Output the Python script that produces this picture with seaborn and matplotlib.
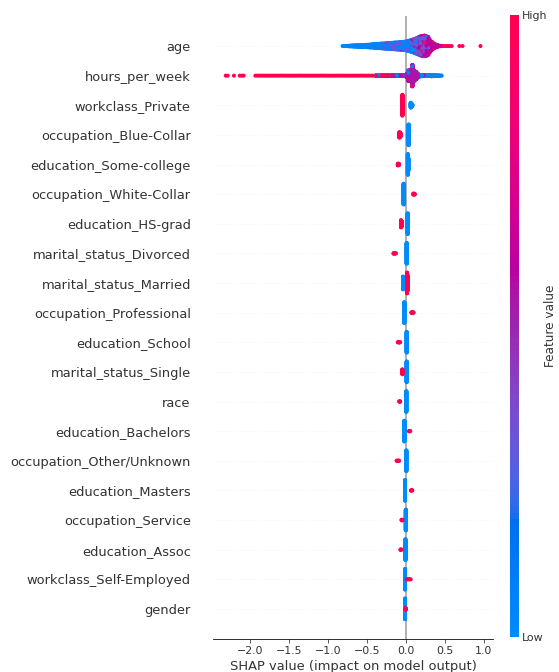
import numpy as np
import pandas as pd
import matplotlib
matplotlib.use("Agg")
import matplotlib.pyplot as plt
from matplotlib.colors import ListedColormap, Normalize
from matplotlib.cm import ScalarMappable
import seaborn as sns

# ---------------------------------------------------------------- data
features = [
    "age", "hours_per_week", "workclass_Private", "occupation_Blue-Collar",
    "education_Some-college", "occupation_White-Collar", "education_HS-grad",
    "marital_status_Divorced", "marital_status_Married", "occupation_Professional",
    "education_School", "marital_status_Single", "race", "education_Bachelors",
    "occupation_Other/Unknown", "education_Masters", "occupation_Service",
    "education_Assoc", "workclass_Self-Employed", "gender",
]

# age: SHAP value bins, sample counts per feature-value level in each bin
age_levels = [0.05, 0.3, 0.6, 0.95]
age_shap = [-0.810, -0.785, -0.760, -0.735, -0.710, -0.685, -0.660, -0.635, -0.610, -0.585,
            -0.560, -0.535, -0.510, -0.485, -0.460, -0.435, -0.410, -0.385, -0.360, -0.335,
            -0.310, -0.285, -0.260, -0.235, -0.210, -0.185, -0.160, -0.135, -0.110, -0.085,
            -0.060, -0.035, -0.010, 0.015, 0.040, 0.065, 0.090, 0.115, 0.140, 0.165,
            0.190, 0.215, 0.240, 0.265, 0.290, 0.315, 0.340, 0.365, 0.390, 0.415,
            0.440, 0.465, 0.490, 0.515, 0.540, 0.565, 0.590, 0.690, 0.730, 0.960]
age_counts = [
    [1, 0, 0, 0], [1, 0, 0, 0], [2, 0, 0, 0], [3, 0, 0, 0], [5, 0, 0, 0],
    [6, 0, 0, 0], [7, 0, 0, 0], [8, 0, 0, 0], [9, 0, 0, 0], [9, 0, 0, 0],
    [10, 0, 0, 0], [11, 0, 0, 0], [12, 0, 0, 0], [13, 0, 0, 0], [14, 1, 0, 0],
    [15, 1, 0, 0], [16, 2, 0, 0], [17, 2, 0, 0], [19, 2, 0, 0], [19, 2, 0, 1],
    [20, 4, 0, 0], [20, 5, 0, 0], [22, 4, 1, 0], [22, 5, 0, 1], [22, 6, 1, 0],
    [23, 7, 1, 0], [23, 8, 0, 1], [24, 9, 1, 0], [24, 10, 1, 0], [23, 11, 1, 1],
    [23, 13, 2, 0], [22, 15, 2, 1], [21, 17, 3, 1], [20, 20, 4, 2], [18, 24, 6, 2],
    [16, 28, 9, 3], [14, 31, 13, 4], [12, 33, 20, 4], [10, 33, 30, 3], [8, 32, 40, 4],
    [6, 30, 51, 5], [5, 27, 59, 6], [4, 24, 65, 7], [3, 20, 65, 7], [2, 16, 61, 7],
    [0, 8, 38, 11], [0, 4, 22, 12], [0, 2, 11, 11], [0, 1, 6, 7], [0, 0, 3, 5],
    [0, 0, 1, 2], [0, 0, 0, 2], [0, 0, 0, 1], [0, 0, 0, 1], [0, 0, 0, 1],
    [0, 0, 0, 1], [0, 0, 0, 1], [0, 0, 0, 1], [0, 0, 0, 1], [0, 0, 0, 1],
]

# hours_per_week: SHAP value bins, counts for low / middle / high hours
hours_levels = [0.05, 0.55, 1.0]
hours_shap = [
    -2.310, -2.285, -2.205, -2.130, -2.105, -2.080,
    -1.930, -1.905, -1.880, -1.855, -1.830, -1.805, -1.780, -1.755, -1.730, -1.705,
    -1.680, -1.655, -1.630, -1.605, -1.580, -1.555, -1.530, -1.505, -1.480, -1.455,
    -1.430, -1.405, -1.380, -1.355, -1.330, -1.305, -1.280, -1.255, -1.230, -1.205,
    -1.180, -1.155, -1.130, -1.105, -1.080, -1.055, -1.030, -1.005, -0.980, -0.955,
    -0.930, -0.905, -0.880, -0.855, -0.830, -0.805, -0.780, -0.755, -0.730, -0.705,
    -0.680, -0.655, -0.630, -0.605, -0.580, -0.555, -0.530, -0.505, -0.480, -0.455,
    -0.430, -0.405,
    -0.380, -0.350, -0.320, -0.290, -0.260, -0.230, -0.200, -0.170, -0.140, -0.110,
    -0.080, -0.050, -0.020,
    0.010, 0.035, 0.060, 0.085, 0.110, 0.135, 0.160,
    0.185, 0.210, 0.235, 0.260, 0.285, 0.310, 0.335, 0.360, 0.385, 0.410, 0.435, 0.460,
]
hours_counts = (
    [[0, 0, 1]] * 68
    + [[3, 1, 5], [3, 1, 5], [3, 1, 5], [4, 1, 5], [4, 2, 5], [4, 2, 5], [5, 2, 4],
       [5, 3, 4], [5, 3, 4], [6, 3, 4], [6, 4, 4], [6, 5, 4], [6, 6, 3]]
    + [[5, 45, 5], [10, 170, 10], [10, 180, 10], [10, 175, 10], [10, 170, 10],
       [10, 120, 5], [20, 30, 2]]
    + [[22, 4, 0], [18, 3, 0], [16, 2, 0], [14, 2, 0], [13, 1, 0], [12, 1, 0],
       [10, 0, 0], [9, 0, 0], [8, 0, 0], [6, 0, 0], [4, 0, 0], [2, 0, 0]]
)

# one-hot features (same order as features[2:]):
# SHAP values / counts for indicator = 0 and indicator = 1
zero_shap = [[0.065, 0.075, 0.085], [0.038], [0.028, 0.034], [-0.026], [0.026],
             [0.013], [-0.034], [-0.017], [0.013], [0.013], [0.008], [-0.017],
             [0.008], [-0.008], [0.002], [-0.003], [-0.008], [-0.008]]
zero_count = [[24, 16, 7], [100], [100, 60], [100], [100],
              [100], [62], [100], [100], [100], [100], [100],
              [100], [100], [100], [100], [100], [100]]
one_shap = [[-0.042], [-0.08, -0.068], [-0.1, -0.088], [0.1, 0.114], [-0.06, -0.05],
            [-0.155, -0.14, -0.127], [0.018, 0.026], [0.076, 0.09, 0.1],
            [-0.1, -0.085, -0.072], [-0.043], [-0.083, -0.072], [0.045, 0.058],
            [-0.115, -0.1, -0.086], [0.07, 0.084], [-0.051, -0.043], [-0.065, -0.055],
            [0.012, 0.028, 0.045, 0.065], [0.0]]
one_count = [[100], [27, 20], [9, 8], [6, 5], [35, 25],
             [3, 3, 2], [100, 70], [4, 4, 2],
             [2, 3, 2], [24], [2, 3], [3, 2],
             [2, 3, 2], [3, 2], [4, 3], [3, 2],
             [1, 2, 2, 1], [9]]

x_ticks = [-2.0, -1.5, -1.0, -0.5, 0.0, 0.5, 1.0]


# ---------------------------------------------------------------- colour map
_M = np.array([[0.4124, 0.3576, 0.1805], [0.2126, 0.7152, 0.0722], [0.0193, 0.1192, 0.9505]])
_WHITE = np.array([0.95047, 1.0, 1.08883])


def lch_to_srgb(L, C, H):
    a, b = C * np.cos(H), C * np.sin(H)
    fy = (L + 16) / 116
    f = np.array([fy + a / 500, fy, fy - b / 200])
    d = 6 / 29
    xyz = np.where(f > d, f ** 3, 3 * d ** 2 * (f - 4 / 29)) * _WHITE
    lin = np.clip(np.linalg.solve(_M, xyz), 0, 1)
    return np.clip(np.where(lin <= 0.0031308, 12.92 * lin, 1.055 * lin ** (1 / 2.4) - 0.055), 0, 1)


def red_blue_cmap(n=100):
    # perceptual blue -> purple -> red ramp in LCh, darker in the middle
    blue_lch = (54.0, 70.0, 4.6588)
    red_lch = (54.0, 90.0, 0.35470565 + 2 * np.pi)
    l_mid = 40.0
    l_vals = list(np.linspace(blue_lch[0], l_mid, n // 2)) + list(np.linspace(l_mid, red_lch[0], n // 2))
    c_vals = np.linspace(blue_lch[1], red_lch[1], n)
    h_vals = np.linspace(blue_lch[2], red_lch[2], n)
    cols = [lch_to_srgb(l, c, h) for l, c, h in zip(l_vals, c_vals, h_vals)]
    return ListedColormap(cols, name="red_blue")


cmap = red_blue_cmap()


# ---------------------------------------------------------------- points
def stack_bin(x, counts, levels, out):
    """Append the samples of one SHAP bin, colour levels spread evenly through the stack."""
    items = []
    for lv, n in zip(levels, counts):
        for i in range(n):
            items.append(((i + 0.5) / n, lv))
    items.sort(key=lambda t: t[0])
    for _, lv in items:
        out.append((x, lv))


def beeswarm_offsets(x, nbins=100, row_height=0.4):
    x = np.asarray(x, float)
    quant = np.round(nbins * (x - x.min()) / (x.max() - x.min() + 1e-8))
    order = np.argsort(quant, kind="stable")
    ys = np.zeros(len(x))
    layer, last = 0, None
    for i in order:
        if quant[i] != last:
            layer = 0
        ys[i] = np.ceil(layer / 2) * ((layer % 2) * 2 - 1)
        layer += 1
        last = quant[i]
    ys *= 0.9 * (row_height / np.max(ys + 1))
    return ys


n_feat = len(features)
frames = []
for idx, name in enumerate(features):
    pts = []
    continuous = name in ("age", "hours_per_week")
    if name == "age":
        for x, c in zip(age_shap, age_counts):
            stack_bin(x, c, age_levels, pts)
    elif name == "hours_per_week":
        for x, c in zip(hours_shap, hours_counts):
            stack_bin(x, c, hours_levels, pts)
    else:
        k = idx - 2
        for x, c in zip(zero_shap[k], zero_count[k]):
            stack_bin(x, [c], [0.0], pts)
        for x, c in zip(one_shap[k], one_count[k]):
            stack_bin(x, [c], [1.0], pts)
    xs = np.array([p[0] for p in pts])
    vals = np.array([p[1] for p in pts])
    row = n_feat - 1 - idx
    df = pd.DataFrame({"shap": xs, "y": row + beeswarm_offsets(xs), "value": vals})
    # continuous features: scatter the painting order so colours interleave
    if continuous:
        df["draw"] = (np.arange(len(df)) * 0.6180339887) % 1.0
        df = df.sort_values("draw", kind="stable").drop(columns="draw")
    frames.append(df)
points = pd.concat(frames, ignore_index=True)

# ---------------------------------------------------------------- figure
axis_color = "#333333"
fig = plt.figure(figsize=(559 / 72, 672 / 72), dpi=72)
ax = fig.add_axes([213.3 / 559, 33.4 / 672, 280 / 559, 622.2 / 672])

for r in range(n_feat):
    ax.axhline(y=r, color="#cccccc", lw=0.5, dashes=(1, 5), zorder=-1)
ax.axvline(x=0, color="#999999", zorder=-1)

sns.scatterplot(data=points, x="shap", y="y", hue="value", palette=cmap, hue_norm=(0, 1),
                s=16, linewidth=0, alpha=1, legend=False, ax=ax, zorder=3)

ax.set_xlim(-2.47, 1.125)
ax.set_ylim(-1, n_feat)
ax.set_yticks(range(n_feat))
ax.set_yticklabels(features[::-1], fontsize=13)
ax.set_xticks(x_ticks)
ax.set_xticklabels([f"{t:.1f}".replace("-", "\u2212") for t in x_ticks])
ax.tick_params("y", length=0, pad=22.5)
ax.tick_params("x", labelsize=11)
ax.tick_params(color=axis_color, labelcolor=axis_color)
for s in ("top", "right", "left"):
    ax.spines[s].set_visible(False)
ax.set_xlabel("SHAP value (impact on model output)", fontsize=13, color=axis_color)
ax.set_ylabel("")

cax = fig.add_axes([510 / 559, 35 / 672, 9 / 559, 622 / 672])
cb = fig.colorbar(ScalarMappable(norm=Normalize(0, 1), cmap=cmap), cax=cax, ticks=[0, 1])
cb.set_ticklabels(["Low", "High"])
cb.ax.tick_params(labelsize=11, length=0, pad=3, labelcolor=axis_color)
cb.set_label("Feature value", size=12, labelpad=-3, color=axis_color)
cb.outline.set_visible(False)

fig.savefig("out.png", dpi=72)
